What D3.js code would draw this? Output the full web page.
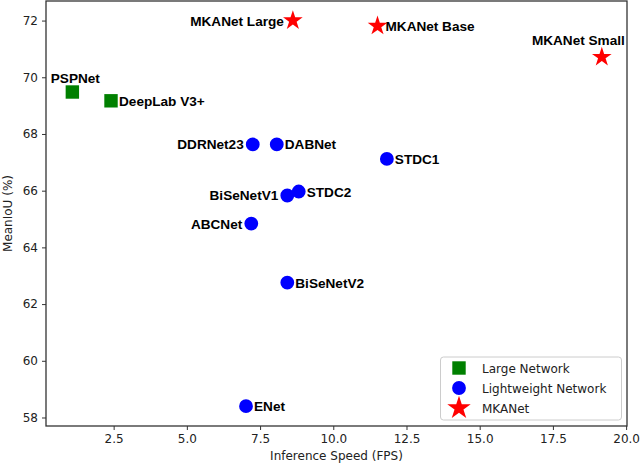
<!DOCTYPE html>
<html><head><meta charset="utf-8">
<script src="https://cdn.jsdelivr.net/npm/d3@7/dist/d3.min.js"></script>
<style>body{margin:0;background:#fff}svg{display:block}</style>
</head><body><div id="chart"></div>
<script>
const names = ["PSPNet","DeepLab V3+","MKANet Large","MKANet Base","MKANet Small","DDRNet23","DABNet","STDC1","STDC2","BiSeNetV1","ABCNet","BiSeNetV2","ENet"];
const groups = ["Large","Large","MKANet","MKANet","MKANet","Light","Light","Light","Light","Light","Light","Light","Light"];
const fps = [1.09,2.41,8.62,11.51,19.17,7.25,8.07,11.83,8.82,8.43,7.20,8.43,7.02];
const miou = [69.48,69.17,72.0,71.81,70.71,67.63,67.63,67.12,65.97,65.83,64.84,62.76,58.40];
const labelPos = ["above","right","left","right","aboveLeft","left","right","right","right","left","left","right","right"];
const xTicks = [2.5,5.0,7.5,10.0,12.5,15.0,17.5,20.0];
const yTicks = [58,60,62,64,66,68,70,72];
const legendNames = ["Large Network","Lightweight Network","MKANet"];
const legendGroups = ["Large","Light","MKANet"];

const W=640,H=466;
const m={left:46,right:13,top:1,bottom:40};
const svg=d3.select("#chart").append("svg").attr("width",W).attr("height",H);
const x=d3.scaleLinear().domain([0.19,20.03]).range([m.left,W-m.right]);
const y=d3.scaleLinear().domain([57.70,72.69]).range([H-m.bottom,m.top]);

const colors={Large:"#008000",Light:"#0000ff",MKANet:"#ff0000"};
const symbols={Large:d3.symbolSquare,Light:d3.symbolCircle,MKANet:d3.symbolStar};
const sizes={Large:180,Light:150,MKANet:120};

const tickFont="DejaVu Sans";
const gx=svg.append("g").attr("transform",`translate(0,${H-m.bottom})`)
 .call(d3.axisBottom(x).tickValues(xTicks).tickFormat(d3.format(".1f")).tickSizeOuter(0).tickSize(4).tickPadding(4));
const gy=svg.append("g").attr("transform",`translate(${m.left},0)`)
 .call(d3.axisLeft(y).tickValues(yTicks).tickFormat(d3.format("d")).tickSizeOuter(0).tickSize(4).tickPadding(4));
[gx,gy].forEach(g=>{g.select(".domain").remove();g.selectAll("line").attr("stroke","#333");
 g.selectAll("text").attr("font-family",tickFont).attr("font-size",12).attr("fill","#222");});

svg.append("rect").attr("x",m.left).attr("y",m.top).attr("width",W-m.left-m.right).attr("height",H-m.top-m.bottom)
 .attr("fill","none").attr("stroke","#333").attr("stroke-width",1.3);

svg.append("text").attr("x",(m.left+W-m.right)/2).attr("y",H-6).attr("text-anchor","middle")
 .attr("font-family",tickFont).attr("font-size",12).attr("fill","#222").text("Inference Speed (FPS)");
svg.append("text").attr("transform",`translate(12,${(m.top+H-m.bottom)/2}) rotate(-90)`).attr("text-anchor","middle")
 .attr("font-family",tickFont).attr("font-size",12).attr("fill","#222").text("MeanIoU (%)");

const idx=d3.range(names.length);
svg.append("g").selectAll("path").data(idx).join("path")
 .attr("transform",i=>`translate(${x(fps[i])},${y(miou[i])})`)
 .attr("d",i=>d3.symbol(symbols[groups[i]],sizes[groups[i]])())
 .attr("fill",i=>colors[groups[i]]);

const lab=svg.append("g").attr("font-family","Liberation Sans, Arial, sans-serif").attr("font-weight","bold").attr("font-size",13.6).attr("fill","#000");
idx.forEach(i=>{
 const px=x(fps[i]),py=y(miou[i]);const p=labelPos[i];
 const t=lab.append("text").text(names[i]);
 if(p==="right"){t.attr("x",px+8).attr("y",py+5);}
 else if(p==="left"){t.attr("x",px-9).attr("y",py+5).attr("text-anchor","end");}
 else if(p==="above"){t.attr("x",px+3).attr("y",py-9).attr("text-anchor","middle");}
 else if(p==="aboveLeft"){t.attr("x",px+23).attr("y",py-12).attr("text-anchor","end");}
});

const lg=svg.append("g");
lg.append("rect").attr("x",440.5).attr("y",357).attr("width",181).attr("height",63).attr("rx",3)
 .attr("fill","#fff").attr("stroke","#ccc");
legendGroups.forEach((g,i)=>{
 const cy=368+i*20;
 lg.append("path").attr("transform",`translate(459,${cy})`).attr("d",d3.symbol(symbols[g],g==="MKANet"?170:sizes[g])()).attr("fill",colors[g]);
 lg.append("text").attr("x",482).attr("y",cy+4.5).attr("font-family",tickFont).attr("font-size",12).attr("fill","#222").text(legendNames[i]);
});
</script></body></html>
